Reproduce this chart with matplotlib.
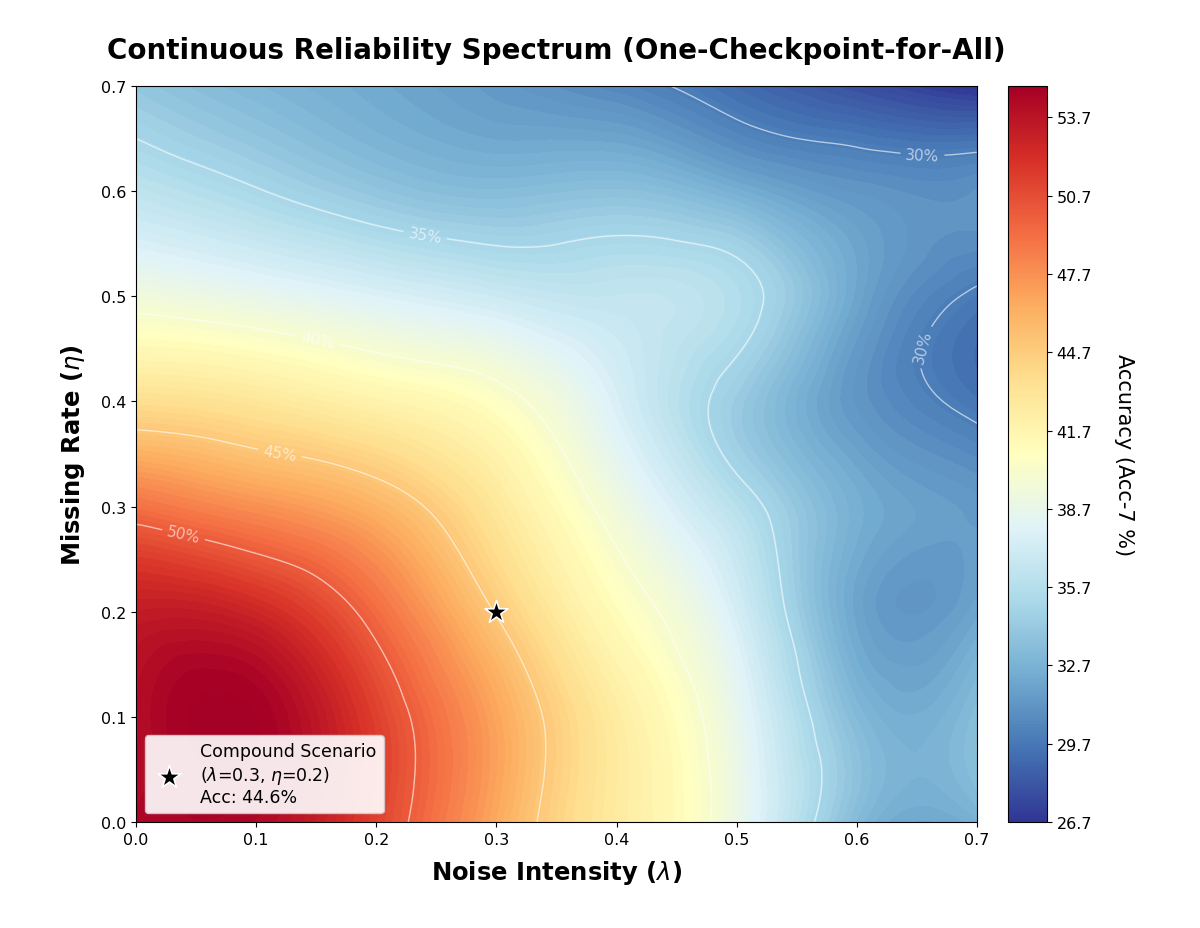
import numpy as np
import matplotlib
matplotlib.use("Agg")
import matplotlib.pyplot as plt
import matplotlib.tri as mtri
from matplotlib.cm import ScalarMappable
from matplotlib.colors import Normalize

# ---- data ----
noise = [0.0, 0.1, 0.2, 0.3, 0.4, 0.5, 0.6, 0.7]      # lambda (x)
missing = [0.0, 0.1, 0.2, 0.3, 0.4, 0.5, 0.6, 0.7]    # eta (y)
# rows: missing rate, cols: noise intensity  (Acc-7 %)
acc_eta00 = [54.4, 54.3, 51.2, 46.6, 42.6, 38.9, 33.2, 32.6]
acc_eta01 = [54.0, 54.9, 51.3, 46.8, 42.5, 38.6, 33.2, 33.4]
acc_eta02 = [53.2, 52.6, 49.3, 44.9, 41.0, 37.4, 32.0, 32.0]
acc_eta03 = [49.1, 47.7, 46.1, 42.9, 39.3, 35.8, 32.5, 31.4]
acc_eta04 = [43.6, 43.0, 41.9, 40.6, 37.6, 34.3, 31.2, 29.6]
acc_eta05 = [39.4, 38.7, 37.8, 36.9, 36.4, 35.6, 32.0, 29.8]
acc_eta06 = [36.2, 35.1, 33.9, 33.3, 33.6, 32.5, 31.2, 31.0]
acc_eta07 = [34.0, 33.0, 32.2, 31.4, 30.5, 29.2, 27.9, 26.7]

contour_levels = [30, 35, 40, 45, 50]
label_positions = [(0.04, 0.275), (0.12, 0.353), (0.15, 0.453), (0.242, 0.567),
                   (0.655, 0.642), (0.675, 0.445)]

point_noise = 0.3
point_missing = 0.2
point_acc = 44.6

# ---- build field ----
Z = np.array([acc_eta00, acc_eta01, acc_eta02, acc_eta03,
              acc_eta04, acc_eta05, acc_eta06, acc_eta07])
X, Y = np.meshgrid(noise, missing)
tri = mtri.Triangulation(X.ravel(), Y.ravel())
interp = mtri.CubicTriInterpolator(tri, Z.ravel(), kind="min_E")
refiner = mtri.UniformTriRefiner(tri)
tri_f, z_f = refiner.refine_field(Z.ravel(), triinterpolator=interp, subdiv=4)

vmin, vmax = Z.min(), Z.max()

fig = plt.figure(figsize=(12, 9.29), dpi=100)
ax = fig.add_axes([0.1133, 0.1141, 0.7008, 0.7922])
cax = fig.add_axes([0.84, 0.1141, 0.0325, 0.7922])

levels = np.linspace(vmin, vmax, 100)
cf = ax.tricontourf(tri_f, z_f, levels=levels, cmap="RdYlBu_r",
                    vmin=vmin, vmax=vmax, extend="both")
cs = ax.tricontour(tri_f, z_f, levels=contour_levels, colors="white",
                   linewidths=1.0, alpha=0.6)
ax.clabel(cs, fmt="%d%%", fontsize=11, colors="white", manual=label_positions)

ax.scatter([point_noise], [point_missing], marker="*", s=300, color="black",
           edgecolors="white", linewidths=1.2, zorder=5,
           label=f"Compound Scenario\n($\\lambda$={point_noise}, $\\eta$={point_missing})\nAcc: {point_acc}%")

ax.set_xlim(min(noise), max(noise))
ax.set_ylim(min(missing), max(missing))
ax.tick_params(labelsize=11.5)
ax.set_xlabel("Noise Intensity ($\\lambda$)", fontsize=17.5, fontweight="bold", labelpad=8)
ax.set_ylabel("Missing Rate ($\\eta$)", fontsize=17.5, fontweight="bold", labelpad=10)
ax.set_title("Continuous Reliability Spectrum (One-Checkpoint-for-All)",
             fontsize=20, fontweight="bold", pad=20)
leg = ax.legend(loc="lower left", fontsize=12.5, framealpha=0.9)

sm = ScalarMappable(norm=Normalize(vmin=vmin, vmax=vmax), cmap="RdYlBu_r")
cbar = fig.colorbar(sm, cax=cax, ticks=np.arange(vmin, vmax, 3.0), format="%.1f")
cbar.ax.tick_params(labelsize=11.5)
cbar.set_label("Accuracy (Acc-7 %)", fontsize=15, rotation=270, labelpad=30)

fig.savefig("out.png", dpi=100)
